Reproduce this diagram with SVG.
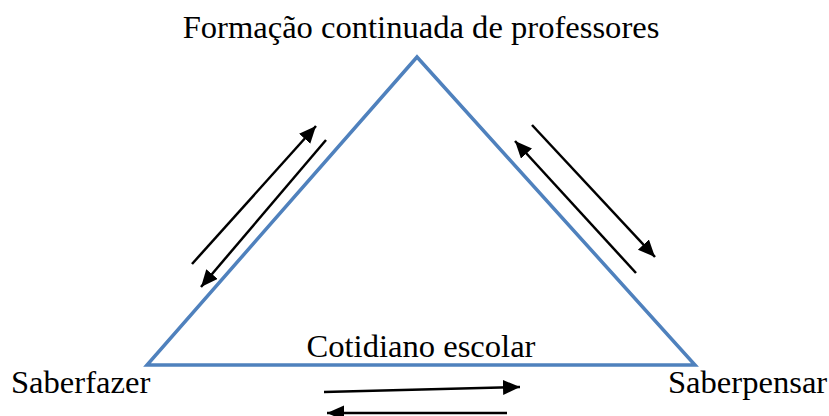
<svg xmlns="http://www.w3.org/2000/svg" width="829" height="416" viewBox="0 0 829 416">
<style>
text{font-family:'Liberation Serif','DejaVu Serif',serif;font-size:32.6px;fill:#000}
.arr{stroke:#000;stroke-width:2.5;fill:none;marker-end:url(#ah)}
</style>
<defs>
<marker id="ah" markerUnits="userSpaceOnUse" markerWidth="20" markerHeight="16" refX="17" refY="7.5" orient="auto">
<path d="M0,0 L17,7.5 L0,15 Z" fill="#000"/>
</marker>
</defs>
<rect width="829" height="416" fill="#fff"/>
<g id="triangle">
<path d="M417,57 L695,365 L147,365 Z" fill="none" stroke="#4F81BD" stroke-width="3.5" stroke-linejoin="miter"/>
</g>
<g id="connectors">
<line class="arr" x1="192" y1="264" x2="316" y2="126"/>
<line class="arr" x1="326" y1="140" x2="201" y2="287"/>
<line class="arr" x1="532" y1="125" x2="655" y2="257"/>
<line class="arr" x1="636" y1="273" x2="515" y2="141"/>
<line class="arr" x1="324" y1="392" x2="520" y2="387"/>
<line class="arr" x1="507" y1="413" x2="327" y2="413"/>
</g>
<g id="node-top"><text font-family="Liberation Serif, serif" x="421" y="38" text-anchor="middle">Formação continuada de professores</text></g>
<g id="node-bottom"><text font-family="Liberation Serif, serif" x="421" y="357" text-anchor="middle">Cotidiano escolar</text></g>
<g id="node-left"><text font-family="Liberation Serif, serif" x="11" y="393">Saberfazer</text></g>
<g id="node-right"><text font-family="Liberation Serif, serif" x="668" y="393">Saberpensar</text></g>
</svg>
